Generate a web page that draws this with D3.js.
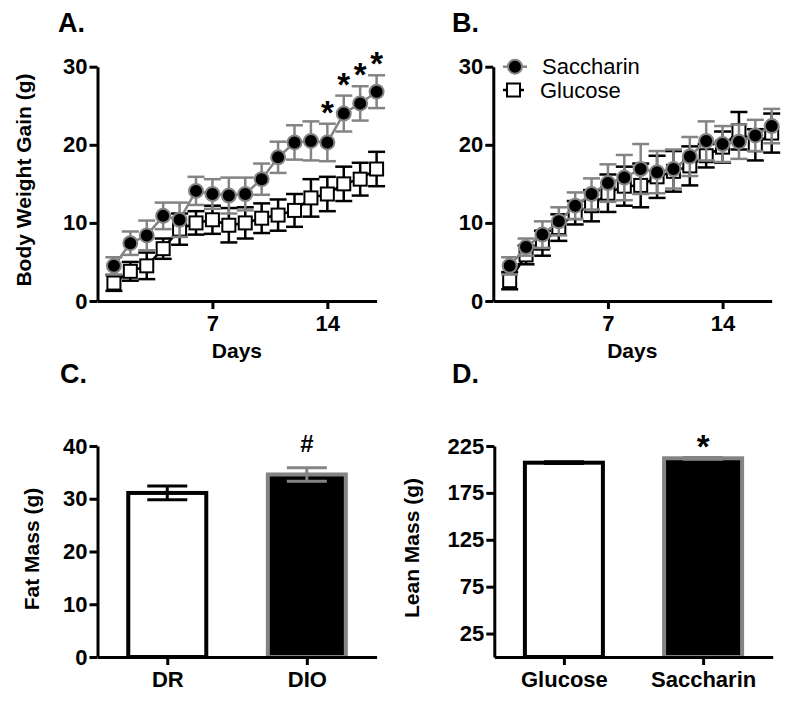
<!DOCTYPE html>
<html><head><meta charset="utf-8">
<script src="https://cdn.jsdelivr.net/npm/d3@7"></script>
<style>body{margin:0;background:#fff}svg{display:block}text{font-family:"Liberation Sans",Arial,sans-serif}</style>
</head><body>
<svg id="c" width="800" height="703"></svg>
<script>
// ---------- data ----------
const days = [1,2,3,4,5,6,7,8,9,10,11,12,13,14,15,16,17];
const dayTicks = [7,14];
const gainTicks = [0,10,20,30];
const sacA    = [4.5,7.4,8.4,10.9,10.4,14.1,13.7,13.5,13.7,15.6,18.4,20.3,20.5,20.3,24.0,25.3,26.8];
const sacAErr = [1.1,1.5,1.9,1.7,2.2,1.8,1.9,2.3,2.1,2.0,2.0,2.2,2.5,2.4,2.3,2.2,2.1];
const gluA    = [2.3,3.8,4.5,6.7,9.2,10.0,10.4,9.7,10.0,10.6,11.0,11.6,13.2,13.7,15.0,15.6,16.9];
const gluAErr = [1.0,1.2,1.7,1.3,2.0,1.5,1.8,2.2,2.0,1.9,2.0,2.1,2.4,2.2,2.2,2.1,2.2];
const sigA    = [14,15,16,17];
const sacB    = [4.5,6.9,8.5,10.2,12.2,13.7,15.1,15.8,16.9,16.5,16.9,18.5,20.5,20.1,20.4,21.2,22.4];
const sacBErr = [1.1,1.1,1.7,1.8,1.7,2.0,2.4,2.9,3.2,2.7,2.5,2.5,2.5,2.3,2.2,2.0,2.2];
const gluB    = [2.6,5.9,7.4,9.4,11.3,12.2,13.8,14.7,14.8,15.9,16.6,17.3,18.6,19.7,21.8,20.0,21.5];
const gluBErr = [1.1,1.2,1.6,1.7,1.5,2.0,2.4,2.5,2.8,2.7,2.6,2.5,1.5,2.0,2.4,2.0,2.5];
const seriesNames = ["Saccharin","Glucose"];

const fatCats = ["DR","DIO"];
const fatVals = [31.1,34.6];
const fatErr  = [1.3,1.3];
const fatTicks = [0,10,20,30,40];
const fatSig = ["","#"];

const leanCats = ["Glucose","Saccharin"];
const leanVals = [207.2,211.9];
const leanErr  = [0.9,0.9];
const leanTicks = [25,75,125,175,225];
const leanSig = ["","*"];

// ---------- style ----------
const GRAY = "#848484";
const FONT = '"Liberation Sans",Arial,sans-serif';
const svg = d3.select("#c");

function styleAxis(g){
  g.selectAll(".domain").attr("stroke","#000").attr("stroke-width",3);
  g.selectAll(".tick line").attr("stroke","#000").attr("stroke-width",3);
  g.selectAll(".tick text").attr("fill","#000").style("font-family",FONT)
    .style("font-weight","bold").style("font-size","22px");
}

function panelLetter(t,x,y){
  svg.append("text").attr("x",x).attr("y",y).text(t)
    .style("font-weight","bold").style("font-size","27px");
}
function yTitle(t,x,y){
  svg.append("text").attr("transform",`translate(${x},${y}) rotate(-90)`)
    .attr("text-anchor","middle").text(t)
    .style("font-weight","bold").style("font-size","21px");
}

function linePanel(x0,x1,sac,sacErr,glu,gluErr,sig){
  const x = d3.scaleLinear().domain([0,17]).range([x0,x1]);
  const y = d3.scaleLinear().domain([0,30]).range([301,66.7]);
  const g = svg.append("g");
  g.append("g").attr("transform","translate(0,301)")
    .call(d3.axisBottom(x).tickValues(dayTicks).tickSize(8).tickPadding(6).tickSizeOuter(0))
    .call(styleAxis);
  g.append("g").attr("transform",`translate(${x0},0)`)
    .call(d3.axisLeft(y).tickValues(gainTicks).tickSize(8).tickPadding(2).tickSizeOuter(0))
    .call(styleAxis);
  g.append("text").attr("x",(x(7)+x(14))/2 - 33).attr("y",358).attr("text-anchor","middle")
    .text("Days").style("font-weight","bold").style("font-size","21px");

  function series(vals,errs,color,kind){
    const s = g.append("g");
    const eb = s.append("g").attr("stroke",color).attr("stroke-width",2.5).attr("fill","none");
    days.forEach((d,i)=>{
      const cx = x(d), top = y(vals[i]+errs[i]), bot = y(vals[i]-errs[i]);
      eb.append("line").attr("x1",cx).attr("x2",cx).attr("y1",top).attr("y2",bot);
      eb.append("line").attr("x1",cx-8.5).attr("x2",cx+8.5).attr("y1",top).attr("y2",top);
      eb.append("line").attr("x1",cx-8.5).attr("x2",cx+8.5).attr("y1",bot).attr("y2",bot);
    });
    s.append("path").datum(vals)
      .attr("d",d3.line().x((v,i)=>x(days[i])).y(v=>y(v)))
      .attr("fill","none").attr("stroke",color).attr("stroke-width",2.5);
    if(kind==="circle"){
      s.selectAll("circle").data(vals).join("circle")
        .attr("cx",(v,i)=>x(days[i])).attr("cy",v=>y(v)).attr("r",7)
        .attr("fill","#000").attr("stroke",GRAY).attr("stroke-width",2);
    } else {
      s.selectAll("rect").data(vals).join("rect")
        .attr("x",(v,i)=>x(days[i])-6.5).attr("y",v=>y(v)-6.5)
        .attr("width",13).attr("height",13)
        .attr("fill","#fff").attr("stroke","#000").attr("stroke-width",2);
    }
  }
  series(glu,gluErr,"#000","square");
  series(sac,sacErr,GRAY,"circle");

  if(sig){
    sig.forEach(d=>{
      const i = days.indexOf(d);
      g.append("text").attr("x",x(d)).attr("y",y(sac[i]+sacErr[i]))
        .attr("text-anchor","middle").text("*")
        .style("font-weight","bold").style("font-size","33px");
    });
  }
  return {x,y};
}

// Panel A
panelLetter("A.",58,32);
yTitle("Body Weight Gain (g)",31,180);
linePanel(97.5,376.6,sacA,sacAErr,gluA,gluAErr,sigA);

// Panel B
panelLetter("B.",452,32);
linePanel(493.3,771.7,sacB,sacBErr,gluB,gluBErr,null);
// legend
(function(){
  const lg = svg.append("g");
  lg.append("line").attr("x1",503).attr("x2",527).attr("y1",66.7).attr("y2",66.7).attr("stroke",GRAY).attr("stroke-width",2.5);
  lg.append("circle").attr("cx",515).attr("cy",66.7).attr("r",7).attr("fill","#000").attr("stroke",GRAY).attr("stroke-width",2);
  lg.append("line").attr("x1",503).attr("x2",524).attr("y1",90).attr("y2",90).attr("stroke","#000").attr("stroke-width",2.5);
  lg.append("rect").attr("x",507).attr("y",83.5).attr("width",13).attr("height",13).attr("fill","#fff").attr("stroke","#000").attr("stroke-width",2);
  lg.append("text").attr("x",542).attr("y",74).text(seriesNames[0]).style("font-size","22px");
  lg.append("text").attr("x",540).attr("y",97.5).text(seriesNames[1]).style("font-size","22px");
})();

function barPanel(x0,x1,yTop,cats,vals,errs,ticks,ymax,sig){
  const x = d3.scalePoint().domain(cats).range([x0,x1]).padding(0.5);
  const y = d3.scaleLinear().domain([0,ymax]).range([657,yTop]);
  const g = svg.append("g");
  const bw = 78;
  cats.forEach((c,i)=>{
    const black = i===1;
    g.append("rect").attr("x",x(c)-bw/2).attr("y",y(vals[i])).attr("width",bw)
      .attr("height",y(0)-y(vals[i]))
      .attr("fill",black?"#000":"#fff").attr("stroke",black?GRAY:"#000").attr("stroke-width",4);
    const col = black?GRAY:"#000";
    const top = y(vals[i]+errs[i]), bot = y(vals[i]-errs[i]), cx = x(c);
    g.append("line").attr("x1",cx).attr("x2",cx).attr("y1",top).attr("y2",bot).attr("stroke",col).attr("stroke-width",3);
    g.append("line").attr("x1",cx-20).attr("x2",cx+20).attr("y1",top).attr("y2",top).attr("stroke",col).attr("stroke-width",3);
    g.append("line").attr("x1",cx-20).attr("x2",cx+20).attr("y1",bot).attr("y2",bot).attr("stroke",col).attr("stroke-width",3);
    if(sig[i]){
      const isStar = sig[i]==="*";
      g.append("text").attr("x",cx).attr("y", isStar ? top+1 : top-16)
        .attr("text-anchor","middle").text(sig[i])
        .style("font-weight","bold").style("font-size",isStar?"33px":"24px");
    }
  });
  g.append("g").attr("transform","translate(0,657)")
    .call(d3.axisBottom(x).tickSize(8).tickPadding(6).tickSizeOuter(0))
    .call(styleAxis);
  g.append("g").attr("transform",`translate(${x0},0)`)
    .call(d3.axisLeft(y).tickValues(ticks).tickSize(8).tickPadding(2).tickSizeOuter(0))
    .call(styleAxis);
  return {x,y};
}

// Panel C
panelLetter("C.",60,383);
yTitle("Fat Mass (g)",39,549);
barPanel(97.5,376.6,446,fatCats,fatVals,fatErr,fatTicks,40,fatSig);

// Panel D
panelLetter("D.",452,383);
yTitle("Lean Mass (g)",419,548);
barPanel(494.3,772.7,446,leanCats,leanVals,leanErr,leanTicks,225,leanSig);
</script>
</body></html>
